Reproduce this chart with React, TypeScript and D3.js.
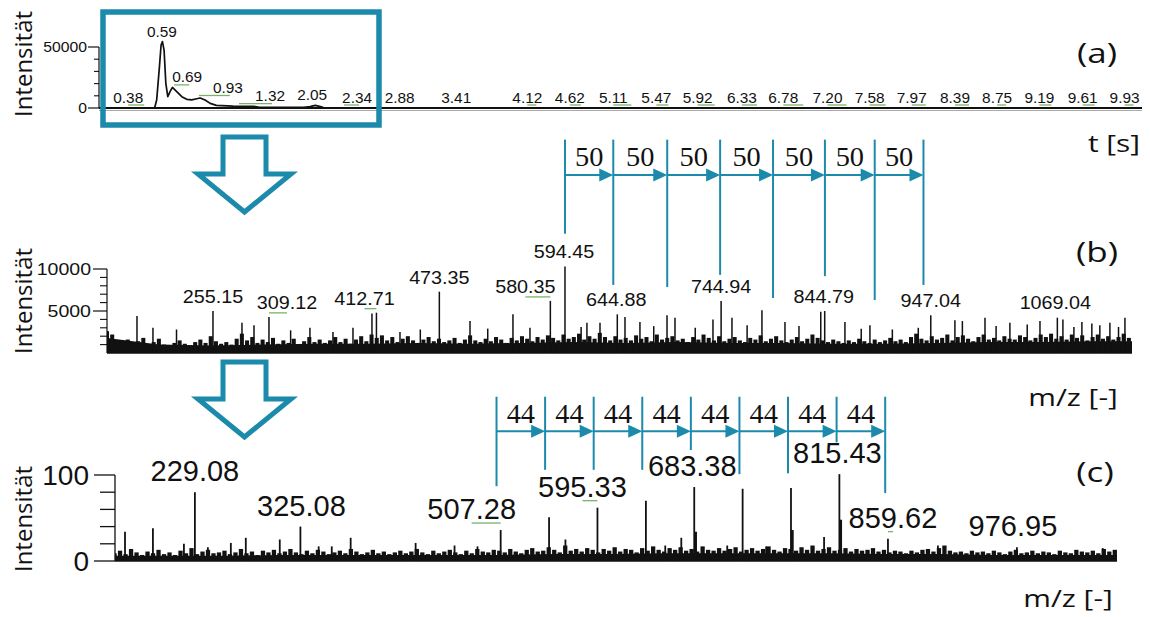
import React from 'react';
import * as d3 from 'd3';

const TEAL = '#1b8aab';
const GREEN = '#77b466';
const SANS = '"Liberation Sans", Arial, sans-serif';
const UI = '"Open Sans", "Noto Sans", sans-serif';
const SERIF = '"Liberation Serif", "DejaVu Serif", serif';

// ---------- (a) chromatogram ----------
const chromTime = [-0.04, 0.5, 0.52, 0.547, 0.563, 0.576, 0.592, 0.609, 0.628, 0.65, 0.673, 0.715, 0.764, 0.812, 0.861, 0.909, 0.942, 0.99, 1.04, 1.1, 1.26, 1.46, 1.52, 1.95, 2.01, 2.06, 2.11, 2.14, 2.2, 10.07];
const chromIntensity = [0, 0, 6500, 33900, 51600, 54400, 47500, 20200, 9300, 13400, 16900, 13400, 9300, 7100, 6600, 7600, 8200, 6600, 3800, 2200, 1600, 1400, 600, 600, 1100, 2200, 1100, 300, 0, 0];
const labelsA = ['0.38', '0.59', '0.69', '0.93', '1.32', '2.05', '2.34', '2.88', '3.41', '4.12', '4.62', '5.11', '5.47', '5.92', '6.33', '6.78', '7.20', '7.58', '7.97', '8.39', '8.75', '9.19', '9.61', '9.93'];
const noLeaderA = ['0.59', '2.05', '2.88', '3.41'];
const ticksA = [0, 50000];
const minorTicksA = [10000, 20000, 30000, 40000];

// ---------- (b) mass spectrum ----------
const noiseBStart = 153;
const noiseBStep = 5;
const noiseB = [
  2600, 2200, 1500,
  1200, 1600, 1100, 1400, 1800, 1000, 1300, 1700,
  1000, 900, 1200, 1500, 1100, 900, 1300, 1600, 1200, 2000,
  1400, 1100, 1300, 1000, 1700, 2300, 1500, 1900, 1200, 1600,
  1300, 1800, 1100, 1500, 1200, 1700, 1000, 1400, 1900, 1300,
  1600, 1200, 1500, 1900, 1300, 1700, 1100, 1600, 2000, 1400,
  2200, 1800, 2100, 1500, 1900, 1300, 1700, 2000, 1500, 1200,
  1600, 1900, 1400, 1700, 1300, 1500, 1800, 1200, 1600, 2100,
  1500, 1300, 1700, 1400, 1900, 1600, 1200, 1800, 1500, 2000,
  1700, 1400, 1900, 1600, 2100, 1800, 1500, 2200, 1700, 1900,
  2300, 1600, 2000, 1700, 2400, 1900, 1500, 2000, 1600, 1800,
  1500, 2100, 1700, 1900, 1400, 2200, 1600, 1800, 2000, 1500,
  1700, 1300, 1900, 1600, 2200, 1800, 1500, 2000, 1400, 1700,
  1900, 1500, 1300, 1800, 1600, 2100, 1400, 1700, 2000, 1500,
  1300, 1600, 1900, 1400, 1700, 2200, 1800, 1500, 1300, 1600,
  1400, 1200, 1500, 1300, 1700, 1400, 1200, 1600, 1300, 1500,
  1800, 1400, 1600, 1300, 1900, 2300, 1700, 1500, 2000, 1600,
  1800, 2200, 1500, 1900, 2100, 1700, 1400, 1900, 2200, 1600,
  1800, 1500, 2000, 1700, 1600, 2100, 1900, 1500, 1800, 2200,
  1900, 2300, 1700, 2000, 1600, 2200, 1800, 2100, 1500, 1900,
  2200, 1700, 2000, 1600, 1900, 2300, 1800,
];
const floorBStep = 50;
const floorB = [1800, 1000, 900, 1000, 1100, 1100, 1200, 1100, 1200, 1300, 1200, 1300, 1200, 1200, 1100, 1100, 1200, 1300, 1300, 1400, 1400];
const spikeMzB = [181.9, 197.3, 220, 255.15, 283.1, 294.7, 309.12, 330, 348.6, 370.8, 390.1, 408.4, 412.71, 435.4, 455, 473.35, 502.9, 520, 544.3, 560.7, 580.35, 594.45, 610, 615.6, 628.2, 644.88, 652.3, 666.7, 680, 692.8, 700.5, 720, 737.1, 744.94, 755.4, 770, 784.3, 806.5, 820, 841.0, 844.79, 864.3, 880, 888.4, 910, 935, 947.04, 970.3, 977.5, 999.3, 1010, 1023.3, 1040, 1052.3, 1069.04, 1074.4, 1085, 1092.7, 1102.3, 1110, 1119.7, 1128, 1134.2];
const spikeIntB = [4400, 3000, 2800, 5000, 3600, 3300, 4300, 2700, 3000, 2500, 3000, 4700, 4800, 2500, 2800, 7300, 3800, 2900, 4600, 3000, 6200, 10300, 3100, 3600, 3600, 4600, 4300, 3700, 3200, 4500, 4200, 3000, 4000, 6200, 4200, 3300, 5100, 3700, 3200, 4900, 5000, 3700, 2900, 3300, 2800, 3000, 4500, 3900, 3800, 4200, 3200, 3600, 3400, 3800, 4200, 4000, 3100, 3700, 3500, 3300, 3600, 3100, 4200];
const labelsB = ['255.15', '309.12', '412.71', '473.35', '580.35', '594.45', '644.88', '744.94', '844.79', '947.04', '1069.04'];
const labelIntB = [5000, 4300, 4800, 7300, 6200, 10300, 4600, 6200, 5000, 4500, 4300];
const ticksB = [5000, 10000];
const minorTicksB = [1000, 2000, 3000, 4000, 6000, 7000, 8000, 9000];
const stepMarksB = [594.45, 641, 693, 744, 795, 845, 893, 940];
const stepLowB = [14200, 8100, 7850, 9300, 6550, 9150, 6300, 8100];
const stepTopB = 25400;
const stepArrowB = 21200;
const stepTextB = 22300;
const stepLabelB = '50';

// ---------- (c) MS/MS spectrum ----------
const noiseCStart = 156;
const noiseCStep = 5;
const noiseC = [
  9, 12, 8, 14, 10, 7, 11, 9, 13, 8,
  10, 7, 12, 9, 15, 8, 11, 13, 9, 10,
  12, 8, 10, 14, 9, 11, 7, 12, 10, 13,
  9, 11, 14, 10, 8, 12, 9, 13, 11, 8,
  10, 12, 9, 14, 11, 8, 10, 13, 9, 11,
  8, 10, 12, 9, 11, 14, 10, 8, 12, 9,
  11, 13, 10, 8, 12, 9, 14, 11, 10, 13,
  12, 10, 14, 11, 9, 13, 15, 11, 12, 16,
  13, 10, 18, 12, 14, 11, 15, 13, 10, 14,
  12, 16, 11, 14, 13, 10, 15, 12, 17, 13,
  11, 15, 13, 16, 12, 14, 11, 17, 13, 12,
  15, 12, 14, 16, 11, 13, 15, 12, 14, 17,
  13, 11, 15, 14, 12, 16, 13, 18, 12, 14,
  16, 12, 13, 15, 11, 14, 12, 13, 15, 11,
  13, 10, 12, 11, 9, 12, 10, 13, 14, 11,
  15, 18, 12, 10, 11, 9, 12, 10, 11, 9,
  12, 10, 8, 11, 13, 9, 10, 12, 9, 11,
  10, 8, 12, 10, 9, 13, 11, 10, 12, 9,
  14, 11, 13,
];
const floorCStep = 50;
const floorC = [6, 6, 6, 7, 7, 7, 7, 7, 8, 8, 9, 9, 9, 9, 8, 8, 7, 7, 7, 7];
const spikeMzC = [165.5, 190.9, 219.1, 229.08, 240.9, 261.8, 275.4, 306.3, 325.08, 341.7, 353.6, 370.8, 429.9, 465.3, 486.2, 507.28, 551.3, 566.2, 595.33, 639.4, 657.0, 671.6, 683.38, 713.4, 727.4, 748.8, 771.4, 801.5, 815.43, 859.62, 905.1, 976.95, 1055];
const spikeIntC = [34, 38, 20, 80, 16, 21, 27, 25, 40, 17, 17, 27, 21, 18, 17, 36, 51, 25, 62, 70, 18, 27, 86, 18, 84, 17, 85, 28, 101, 26, 18, 16, 15];
const shoulderMzC = [684.5, 772.5, 816.5];
const shoulderIntC = [34, 36, 48];
const labelsC = ['229.08', '325.08', '507.28', '595.33', '683.38', '815.43', '859.62', '976.95'];
const labelIntC = [80, 40, 36, 62, 86, 101, 26, 16];
const ticksC = [0, 100];
const minorTicksC = [20, 40, 60, 80];
const stepMarksC = [503.5, 547.7, 591.9, 636.1, 680.3, 724.5, 768.7, 812.9, 857.1];
const stepLowC = [87, 106, 106, 106, 129, 101, 102, 138, 79];
const stepTopC = 191;
const stepArrowC = 151;
const stepTextC = 160.5;
const stepLabelC = '44';

// label nudges (layout, px) used by the original software to avoid overlaps
const labelShiftA = [-14, -2, 13, 29, 31, -2, 13, 0, 2, 0, -9, -16, -10, -15, -13, -18, -17, -14, -12, -12, -7, -10, -10, -1];
const labelShiftB = [0, 18, -12, 0, -25, -1, -1, 0, -1, 0, -2];
const labelShiftC = [0, 1, -29, -15, -2, -2, 5, -4];

function SText(props: { x: number; y: number; sx?: number; size: number; family: string; anchor?: string; children: React.ReactNode; fill?: string }) {
  const { x, y, sx = 1, size, family, anchor = 'middle', children, fill = '#111' } = props;
  return (
    <text transform={`translate(${x},${y}) scale(${sx},1)`} textAnchor={anchor as any} fontSize={size} fontFamily={family} fill={fill}>
      {children}
    </text>
  );
}

function Steps(props: { marks: number[]; lows: number[]; top: number; arrow: number; textY: number; label: string; x: d3.ScaleLinear<number, number>; y: d3.ScaleLinear<number, number> }) {
  const { marks, lows, top, arrow, textY, label, x, y } = props;
  const ay = y(arrow);
  return (
    <g>
      {marks.map((m, i) => (
        <line key={'v' + i} x1={x(m)} x2={x(m)} y1={y(top)} y2={y(lows[i])} stroke={TEAL} strokeWidth={2} />
      ))}
      {marks.slice(1).map((m, i) => {
        const x0 = x(marks[i]);
        const x1 = x(m);
        return (
          <g key={'a' + i}>
            <line x1={x0} x2={x1 - 10} y1={ay} y2={ay} stroke={TEAL} strokeWidth={2} />
            <polygon points={`${x1 - 14},${ay - 6.5} ${x1},${ay} ${x1 - 14},${ay + 6.5}`} fill={TEAL} />
            <SText x={(x0 + x1) / 2} y={y(textY)} sx={1.05} size={27} family={SERIF}>{label}</SText>
          </g>
        );
      })}
    </g>
  );
}

export default function App() {
  const xA = d3.scaleLinear().domain([-0.04, 10.07]).range([99, 1140]);
  const yA = d3.scaleLinear().domain([0, 50000]).range([108, 47]);
  const xB = d3.scaleLinear().domain([153, 1141]).range([107, 1132]);
  const yB = d3.scaleLinear().domain([0, 10000]).range([353, 269]);
  const xC = d3.scaleLinear().domain([156.4, 1068]).range([115, 1117]);
  const yC = d3.scaleLinear().domain([0, 100]).range([561, 475]);

  const chromLine = d3.line<number>().x((_, i) => xA(chromTime[i])).y((d) => yA(d));
  const chromAt = (t: number) => {
    const i = d3.bisectLeft(chromTime, t);
    if (i <= 0) return chromIntensity[0];
    if (i >= chromTime.length) return 0;
    const t0 = chromTime[i - 1], t1 = chromTime[i];
    return chromIntensity[i - 1] + ((chromIntensity[i] - chromIntensity[i - 1]) * (t - t0)) / (t1 - t0);
  };
  const localMax = (t: number) => {
    let m = 0;
    [-0.03, -0.015, 0, 0.015, 0.03].forEach((d) => (m = Math.max(m, chromAt(t + d))));
    chromTime.forEach((ct, i) => { if (Math.abs(ct - t) <= 0.03) m = Math.max(m, chromIntensity[i]); });
    return m;
  };

  const floorArea = (vals: number[], start: number, step: number, x: any, y: any) =>
    d3.area<number>().x((_, i) => x(start + i * step)).y0(y(0)).y1((d) => y(d))(vals) || '';

  const barW = (x: any, step: number) => Math.max(1, (x(step) - x(0)) * 0.78);

  const green = (x1: number, x2: number, yy: number, key: string) => (
    <line key={key} x1={x1} x2={x2} y1={yy} y2={yy} stroke={GREEN} strokeWidth={1.3} />
  );

  const arrowShape = (top: number) =>
    [[223, top], [266, top], [266, top + 37], [291, top + 37], [244.5, top + 75], [198, top + 37], [223, top + 37]]
      .map((p) => p.join(',')).join(' ');

  return (
    <svg width={1150} height={617} style={{ position: 'absolute', left: 0, top: 0, background: '#fff' }}>
      <defs>
        <clipPath id="clipB"><rect x={107} y={0} width={1025} height={354} /></clipPath>
        <clipPath id="clipC"><rect x={115} y={380} width={1002} height={182} /></clipPath>
      </defs>
      <rect x={0} y={0} width={1150} height={617} fill="#fff" />

      {/* ================= (a) ================= */}
      <line x1={xA(-0.04)} x2={1142} y1={110.5} y2={110.5} stroke="#aaa" strokeWidth={1} />
      <line x1={xA(-0.04)} x2={1142} y1={yA(0)} y2={yA(0)} stroke="#111" strokeWidth={1.8} />
      <path d={chromLine(chromIntensity) || ''} fill="none" stroke="#111" strokeWidth={1.7} strokeLinejoin="round" />
      <line x1={99} x2={99} y1={yA(50000)} y2={yA(0)} stroke="#111" strokeWidth={1.2} />
      {ticksA.map((t) => (
        <g key={'ta' + t}>
          <line x1={88} x2={99} y1={yA(t)} y2={yA(t)} stroke="#111" strokeWidth={1.2} />
          <SText x={87} y={yA(t) + 5} size={15} family={SANS} anchor="end" sx={1.05}>{String(t)}</SText>
        </g>
      ))}
      {minorTicksA.map((t) => (
        <line key={'ma' + t} x1={94} x2={99} y1={yA(t)} y2={yA(t)} stroke="#111" strokeWidth={1.1} />
      ))}
      {labelsA.map((lab, i) => {
        const t = +lab;
        const tx = xA(t);
        const lx = tx + labelShiftA[i];
        const by = Math.min(102.5, yA(localMax(t)) - 5);
        let leader = null;
        if (!noLeaderA.includes(lab)) {
          const a = Math.abs(lx - tx) < 5 ? lx : Math.min(lx, tx);
          const b = Math.abs(lx - tx) < 5 ? lx + 9 : Math.max(lx, tx) + 2;
          leader = green(a, b, by + 2.5, 'ga' + i);
        }
        return (
          <g key={'la' + i}>
            {leader}
            <SText x={lx} y={by} size={14} family={SANS} sx={1.1}>{lab}</SText>
          </g>
        );
      })}
      <SText x={1097} y={63} size={28} family={UI} sx={1.25}>(a)</SText>
      <SText x={1114} y={152} size={23} family={UI} sx={1.3}>t [s]</SText>

      {/* ================= (b) ================= */}
      <g clipPath="url(#clipB)">
        <path d={floorArea(floorB, noiseBStart, floorBStep, xB, yB)} fill="#111" />
        {noiseB.map((v, i) => {
          const cx = xB(noiseBStart + i * noiseBStep);
          const w = barW(xB, noiseBStep);
          return <rect key={'nb' + i} x={cx - w / 2} y={yB(v)} width={w} height={yB(0) - yB(v)} fill="#111" />;
        })}
        {spikeMzB.map((m, i) => (
          <line key={'sb' + i} x1={xB(m)} x2={xB(m)} y1={yB(0)} y2={yB(spikeIntB[i])} stroke="#111" strokeWidth={1.5} />
        ))}
      </g>
      <line x1={107} x2={1132} y1={yB(0)} y2={yB(0)} stroke="#111" strokeWidth={1.5} />
      <line x1={107} x2={107} y1={yB(10000)} y2={yB(0)} stroke="#111" strokeWidth={1.2} />
      {ticksB.map((t) => (
        <g key={'tb' + t}>
          <line x1={93} x2={107} y1={yB(t)} y2={yB(t)} stroke="#111" strokeWidth={1.2} />
          <SText x={91} y={yB(t) + 6} size={17} family={SANS} anchor="end" sx={1.15}>{String(t)}</SText>
        </g>
      ))}
      {minorTicksB.map((t) => (
        <line key={'mb' + t} x1={100} x2={107} y1={yB(t)} y2={yB(t)} stroke="#111" strokeWidth={1.1} />
      ))}
      {labelsB.map((lab, i) => {
        const px = xB(+lab);
        const lx = px + labelShiftB[i];
        const by = yB(labelIntB[i]) - 8;
        return (
          <g key={'lb' + i}>
            {Math.abs(labelShiftB[i]) >= 5 ? green(Math.min(lx, px), Math.max(lx, px), by + 4, 'gb' + i) : null}
            <SText x={lx} y={by} size={17.5} family={SANS} sx={1.13}>{lab}</SText>
          </g>
        );
      })}
      <Steps marks={stepMarksB} lows={stepLowB} top={stepTopB} arrow={stepArrowB} textY={stepTextB} label={stepLabelB} x={xB} y={yB} />
      <SText x={1097} y={262} size={28} family={UI} sx={1.25}>(b)</SText>
      <SText x={1073} y={406} size={23} family={UI} sx={1.3}>m/z [-]</SText>

      {/* ================= (c) ================= */}
      <g clipPath="url(#clipC)">
        <path d={floorArea(floorC, noiseCStart, floorCStep, xC, yC)} fill="#111" />
        {noiseC.map((v, i) => {
          const cx = xC(noiseCStart + i * noiseCStep);
          const w = barW(xC, noiseCStep);
          return <rect key={'nc' + i} x={cx - w / 2} y={yC(v)} width={w} height={yC(0) - yC(v)} fill="#111" />;
        })}
        {spikeMzC.map((m, i) => (
          <line key={'sc' + i} x1={xC(m)} x2={xC(m)} y1={yC(0)} y2={yC(spikeIntC[i])} stroke="#111" strokeWidth={1.8} />
        ))}
        {shoulderMzC.map((m, i) => (
          <line key={'hc' + i} x1={xC(m)} x2={xC(m)} y1={yC(0)} y2={yC(shoulderIntC[i])} stroke="#111" strokeWidth={3} />
        ))}
      </g>
      <line x1={115} x2={1117} y1={yC(0)} y2={yC(0)} stroke="#111" strokeWidth={1.5} />
      <line x1={115} x2={115} y1={yC(100)} y2={yC(0)} stroke="#111" strokeWidth={1.3} />
      {ticksC.map((t) => (
        <g key={'tc' + t}>
          <line x1={94} x2={115} y1={yC(t)} y2={yC(t)} stroke="#111" strokeWidth={1.3} />
          <SText x={89} y={yC(t) + 10} size={28} family={SANS} anchor="end">{String(t)}</SText>
        </g>
      ))}
      {minorTicksC.map((t) => (
        <line key={'mc' + t} x1={100} x2={115} y1={yC(t)} y2={yC(t)} stroke="#111" strokeWidth={1.3} />
      ))}
      {labelsC.map((lab, i) => {
        const px = xC(+lab);
        const lx = px + labelShiftC[i];
        const by = yC(labelIntC[i]) - 11;
        return (
          <g key={'lc' + i}>
            {Math.abs(labelShiftC[i]) >= 5 ? green(Math.min(lx, px), Math.max(lx, px), by + 4, 'gc' + i) : null}
            <SText x={lx} y={by} size={29} family={SANS}>{lab}</SText>
          </g>
        );
      })}
      <Steps marks={stepMarksC} lows={stepLowC} top={stepTopC} arrow={stepArrowC} textY={stepTextC} label={stepLabelC} x={xC} y={yC} />
      <SText x={1095} y={482} size={28} family={UI} sx={1.25}>(c)</SText>
      <SText x={1068} y={607} size={23} family={UI} sx={1.3}>m/z [-]</SText>

      {/* y-axis titles */}
      {[64, 301, 519].map((cy, i) => (
        <text key={'yt' + i} transform={`translate(32,${cy}) rotate(-90)`} textAnchor="middle" fontSize={24} fontFamily={UI} fill="#111">
          Intensität
        </text>
      ))}

      {/* zoom box and flow arrows */}
      <rect x={103} y={12} width={276} height={113} fill="none" stroke={TEAL} strokeWidth={5.5} />
      <polygon points={arrowShape(137)} fill="#fff" stroke={TEAL} strokeWidth={5} strokeLinejoin="miter" />
      <polygon points={arrowShape(362)} fill="#fff" stroke={TEAL} strokeWidth={5} strokeLinejoin="miter" />
    </svg>
  );
}
